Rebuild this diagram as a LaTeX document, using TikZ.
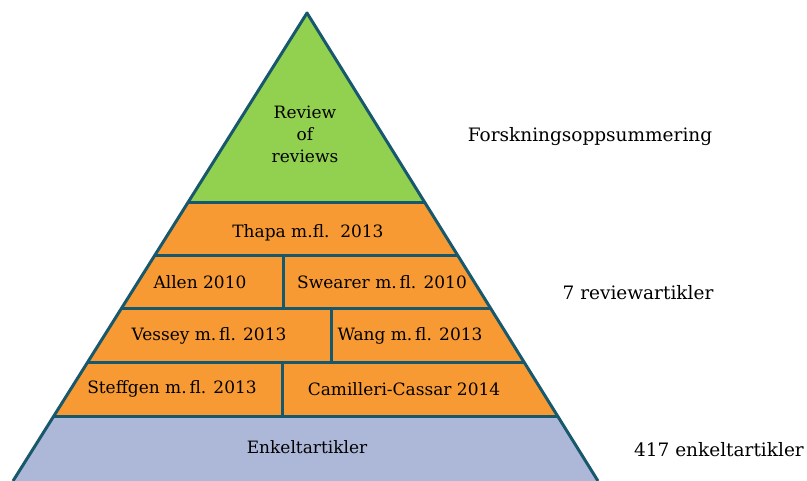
\documentclass[tikz,border=0pt]{standalone}
\usepackage{fontspec}
\setmainfont{DejaVu Serif}
\usepackage{tikz}
\usetikzlibrary{positioning, calc}

\definecolor{pyrgreen}{RGB}{146,208,80}
\definecolor{pyrorange}{RGB}{248,154,52}
\definecolor{pyrblue}{RGB}{173,184,217}
\definecolor{pyrline}{RGB}{24,88,108}

\begin{document}
\begin{tikzpicture}[
    x=1pt, y=-1pt,
    label/.style={font=\fontsize{17}{22}\selectfont, inner sep=0pt, align=center},
    side/.style={font=\fontsize{18.5}{22}\selectfont, inner sep=0pt},
    edge/.style={draw=pyrline, line width=3pt, line join=round}
]
\useasboundingbox (0,0) rectangle (807,481);

% Corners of the pyramid
\coordinate (apex) at (307,13);
\coordinate (gl) at (188,203);
\coordinate (gr) at (425,203);
\coordinate (al) at (154,256);
\coordinate (ar) at (458,256);
\coordinate (bl) at (121,309);
\coordinate (br) at (491,309);
\coordinate (cl) at (87,363);
\coordinate (cr) at (525,363);
\coordinate (dl) at (53,417);
\coordinate (dr) at (558,417);
\coordinate (el) at (13,481);
\coordinate (er) at (598,481);

% Layers
\fill[pyrgreen] (apex) -- (gr) -- (gl) -- cycle;
\fill[pyrorange] (gl) -- (gr) -- (dr) -- (dl) -- cycle;
\fill[pyrblue] (dl) -- (dr) -- (er) -- (el) -- cycle;

% Row lines
\draw[edge] (gl) -- (gr);
\draw[edge] (al) -- (ar);
\draw[edge] (bl) -- (br);
\draw[edge] (cl) -- (cr);
\draw[edge] (dl) -- (dr);
\draw[edge] (283,256) -- (283,309);
\draw[edge] (331,309) -- (331,363);
\draw[edge] (282,363) -- (282,417);

% Outline
\draw[edge] (el) -- (apex) -- (er);

% Texts in the pyramid
\node[label] (rev) at (305,134) {Review\\of\\reviews};
\node[label] (thapa) at (308,233) {Thapa m.fl.\ \ 2013};
\node[label] (allen) at (200,282) {Allen 2010};
\node[label] (swearer) at (382,282) {Swearer m.\,fl. 2010};
\node[label] (vessey) at (209,336) {Vessey m.\,fl. 2013};
\node[label] (wang) at (410,336) {Wang m.\,fl. 2013};
\node[label] (steffgen) at (172,389) {Steffgen m.\,fl. 2013};
\node[label] (camilleri) at (404,389) {Camilleri-Cassar 2014};
\node[label] (enkel) at (307,447) {Enkeltartikler};

% Texts on the right
\node[side] (forsk) at (590,137) {Forskningsoppsummering};
\node[side] (review7) at (638,293) {7 reviewartikler};
\node[side, anchor=east] (enkel417) at (804,450) {417 enkeltartikler};

\end{tikzpicture}
\end{document}
